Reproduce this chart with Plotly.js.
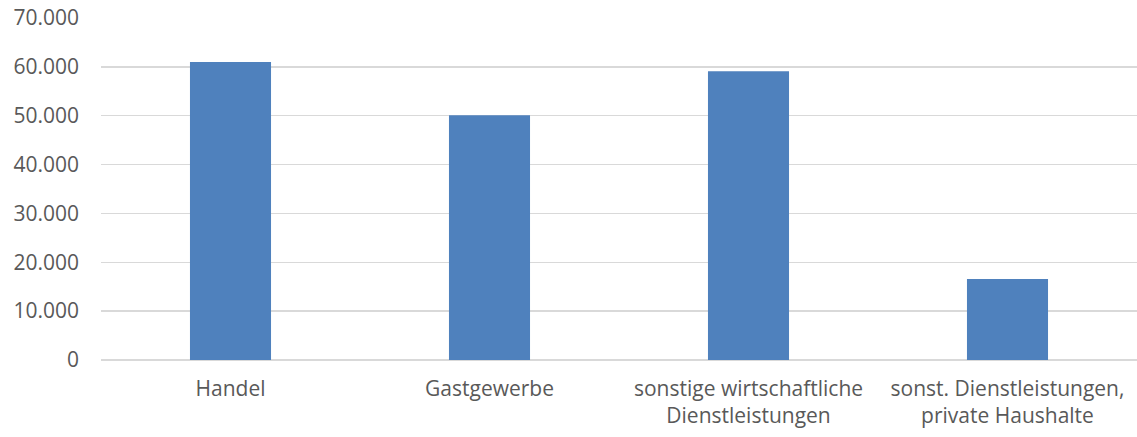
<!DOCTYPE html>
<html>
<head>
<meta charset="utf-8">
<script src="https://cdn.plot.ly/plotly-3.0.1.min.js"></script>
<style>html,body{margin:0;padding:0;background:#fff;}#chart{width:1137px;height:437px;}</style>
</head>
<body>
<div id="chart"></div>
<script>
const categories = ["Handel", "Gastgewerbe", "sonstige wirtschaftliche<br>Dienstleistungen", "sonst. Dienstleistungen,<br>private Haushalte"];
const values = [61000, 50100, 59100, 16600];
const yTicks = [0, 10000, 20000, 30000, 40000, 50000, 60000, 70000];

Plotly.newPlot('chart', [{
  type: 'bar',
  x: categories,
  y: values,
  marker: {color: '#4F81BD', line: {width: 0}},
  hoverinfo: 'none'
}], {
  width: 1137, height: 437,
  margin: {l: 101, r: 0, t: 18, b: 77},
  separators: ',.',
  bargap: 0.687,
  paper_bgcolor: '#ffffff', plot_bgcolor: '#ffffff',
  font: {family: 'Open Sans, Liberation Sans, sans-serif', size: 21, color: '#595959'},
  xaxis: {
    showgrid: false, showline: false, zeroline: false, ticks: '',
    tickfont: {size: 21, color: '#595959'},
    ticklabelstandoff: 14
  },
  yaxis: {
    range: [0, 70000], tickvals: yTicks, tickformat: ',d',
    showgrid: true, gridcolor: '#D9D9D9', gridwidth: 1.3,
    zeroline: true, zerolinecolor: '#D9D9D9', zerolinewidth: 1.3,
    showline: false, ticks: '', ticklabelstandoff: 21,
    tickfont: {size: 21, color: '#595959'}
  },
  showlegend: false
}, {displayModeBar: false, staticPlot: true});
</script>
</body>
</html>
